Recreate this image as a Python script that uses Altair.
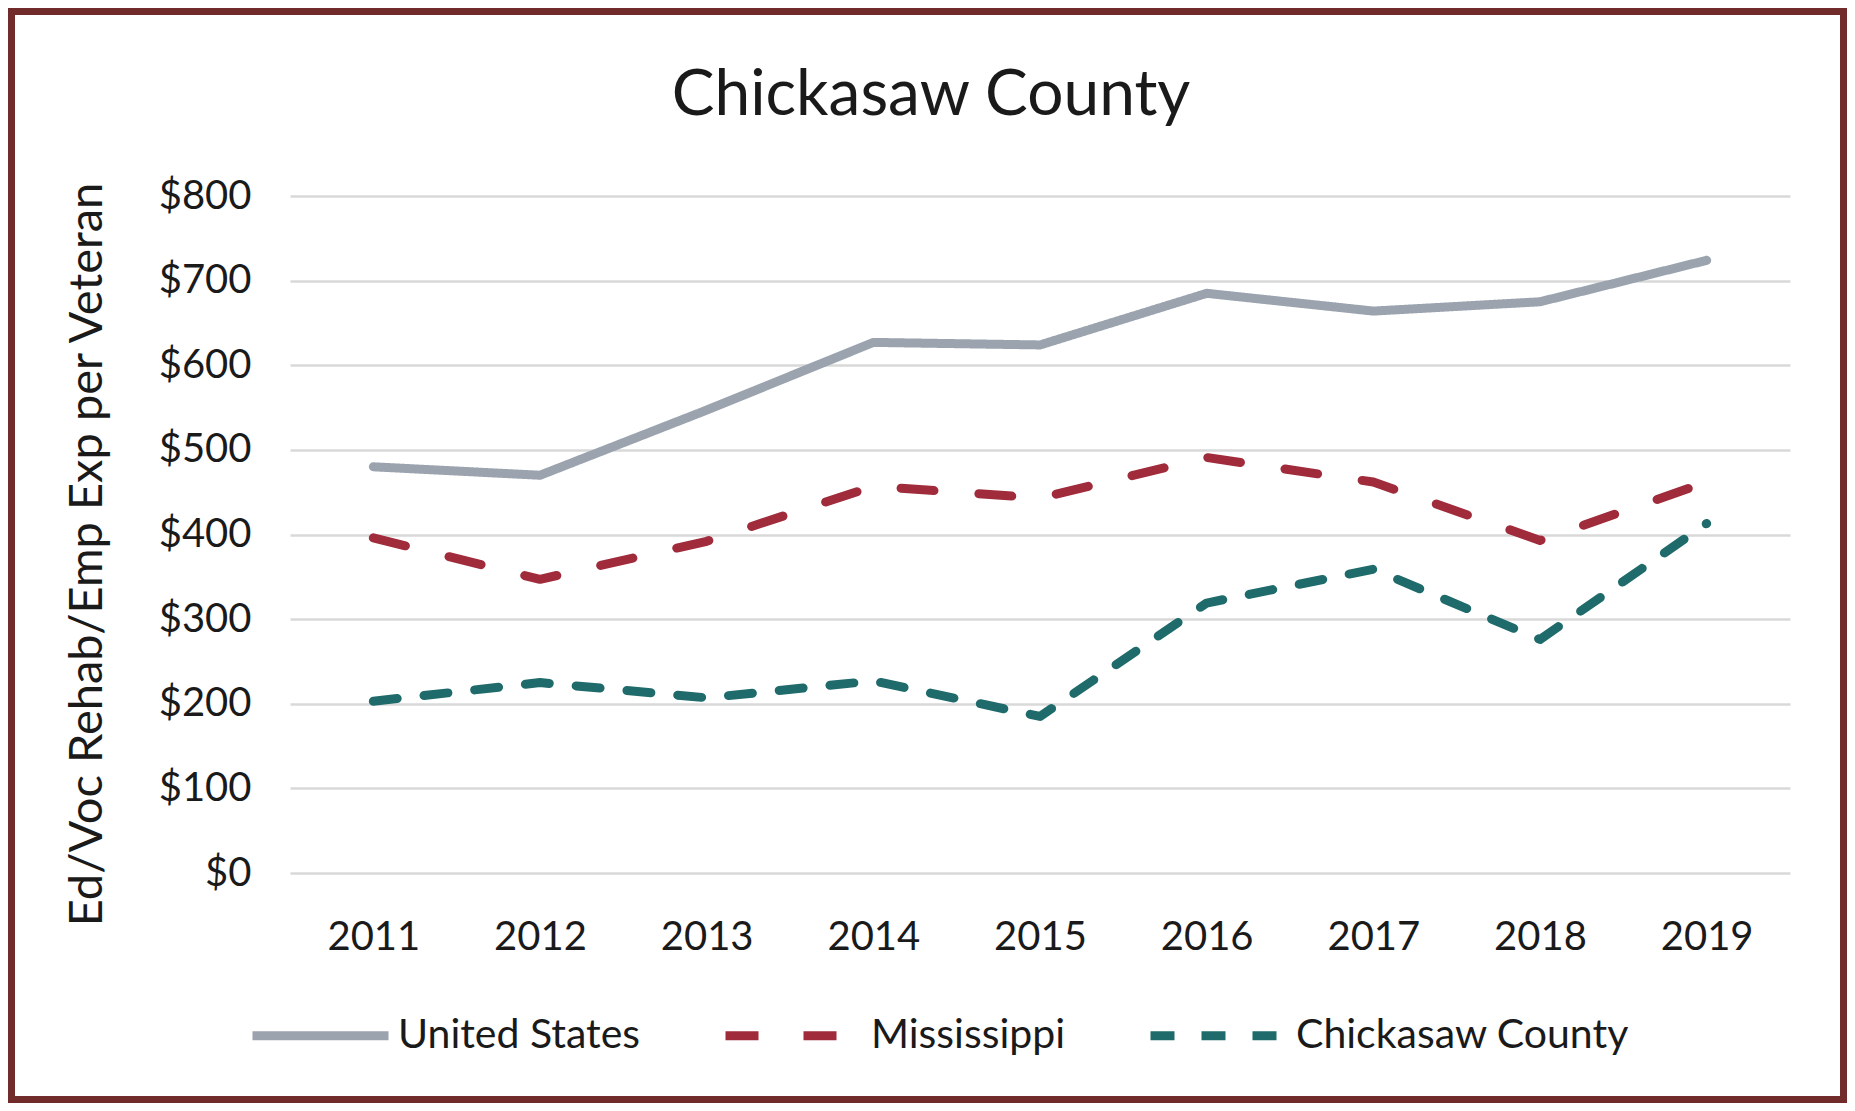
import altair as alt
import pandas as pd

years = ["2011", "2012", "2013", "2014", "2015", "2016", "2017", "2018", "2019"]
us_values = [480, 470, 547, 627, 624, 685, 664, 675, 724]
ms_values = [396, 347, 392, 457, 443, 491, 462, 393, 462]
cc_values = [203, 225, 207, 227, 185, 319, 359, 276, 413]
series_names = ["United States", "Mississippi", "Chickasaw County"]
series_colors = ["#9AA3AE", "#A02B3B", "#1F6B6B"]
series_dashes = [[1, 0], [33, 45], [24, 27]]
y_ticks = [0, 100, 200, 300, 400, 500, 600, 700, 800]
chart_title = "Chickasaw County"

rows = []
for name, vals in zip(series_names, [us_values, ms_values, cc_values]):
    for yr, v in zip(years, vals):
        rows.append({"Year": yr, "Value": v, "Series": name})
df = pd.DataFrame(rows)

FONT = "Lato"
TXT = "#1a1a1a"
W, H = 1500, 677
PL, PT, PR, PB = 282, 188, 57, 230

legend = alt.Legend(
    title=None, orient="none", legendX=-42, legendY=767, direction="horizontal",
    symbolType="stroke", symbolSize=136 * 136, symbolStrokeWidth=9,
    labelFontSize=41, labelFont=FONT, labelColor=TXT, labelOffset=5, labelLimit=1000,
    columnPadding=66, symbolLimit=0,
)

lines = alt.Chart(df).mark_line(strokeWidth=9, strokeCap="round", strokeJoin="round").encode(
    x=alt.X("Year:O", sort=years, title=None,
            axis=alt.Axis(labelAngle=0, labelFontSize=40, labelFont=FONT, labelColor=TXT,
                          domain=False, ticks=False, tickSize=0, grid=False,
                          labelBaseline="alphabetic", labelPadding=76)),
    y=alt.Y("Value:Q", scale=alt.Scale(domain=[0, 800], nice=False),
            title="Ed/Voc Rehab/Emp Exp per Veteran",
            axis=alt.Axis(values=y_ticks, format="$,.0f", labelFontSize=40, labelFont=FONT,
                          labelColor=TXT, domain=False, ticks=False, tickSize=0,
                          labelPadding=39, gridColor="#D9D9D9", gridWidth=2.5,
                          titleFont=FONT, titleFontSize=47, titleFontWeight="normal",
                          titleColor=TXT, titleAngle=-90, titleX=-203, titleY=358,
                          titleAlign="center", titleBaseline="middle")),
    color=alt.Color("Series:N", scale=alt.Scale(domain=series_names, range=series_colors), legend=legend),
    strokeDash=alt.StrokeDash("Series:N", scale=alt.Scale(domain=series_names, range=series_dashes), legend=legend),
)

single = pd.DataFrame({"f": [0]})

frame = alt.Chart(single).mark_rect(
    fillOpacity=0, stroke="#722B2B", strokeWidth=7
).encode(
    x=alt.value(-PL + 3.5), x2=alt.value(W + PR - 3.5),
    y=alt.value(-PT + 3.5), y2=alt.value(H + PB - 3.5),
)

title_text = alt.Chart(single).mark_text(
    font=FONT, fontSize=64, color=TXT, align="center", baseline="alphabetic"
).encode(
    x=alt.value(641), y=alt.value(-81), text=alt.value(chart_title),
)

chart = alt.layer(lines, frame, title_text).properties(
    width=W, height=H,
    padding={"left": PL, "top": PT, "right": PR, "bottom": PB},
    autosize=alt.AutoSizeParams(type="none"),
    background="white",
).configure_view(stroke=None)

chart.save("out.html", embed_options={"renderer": "svg", "actions": False})
